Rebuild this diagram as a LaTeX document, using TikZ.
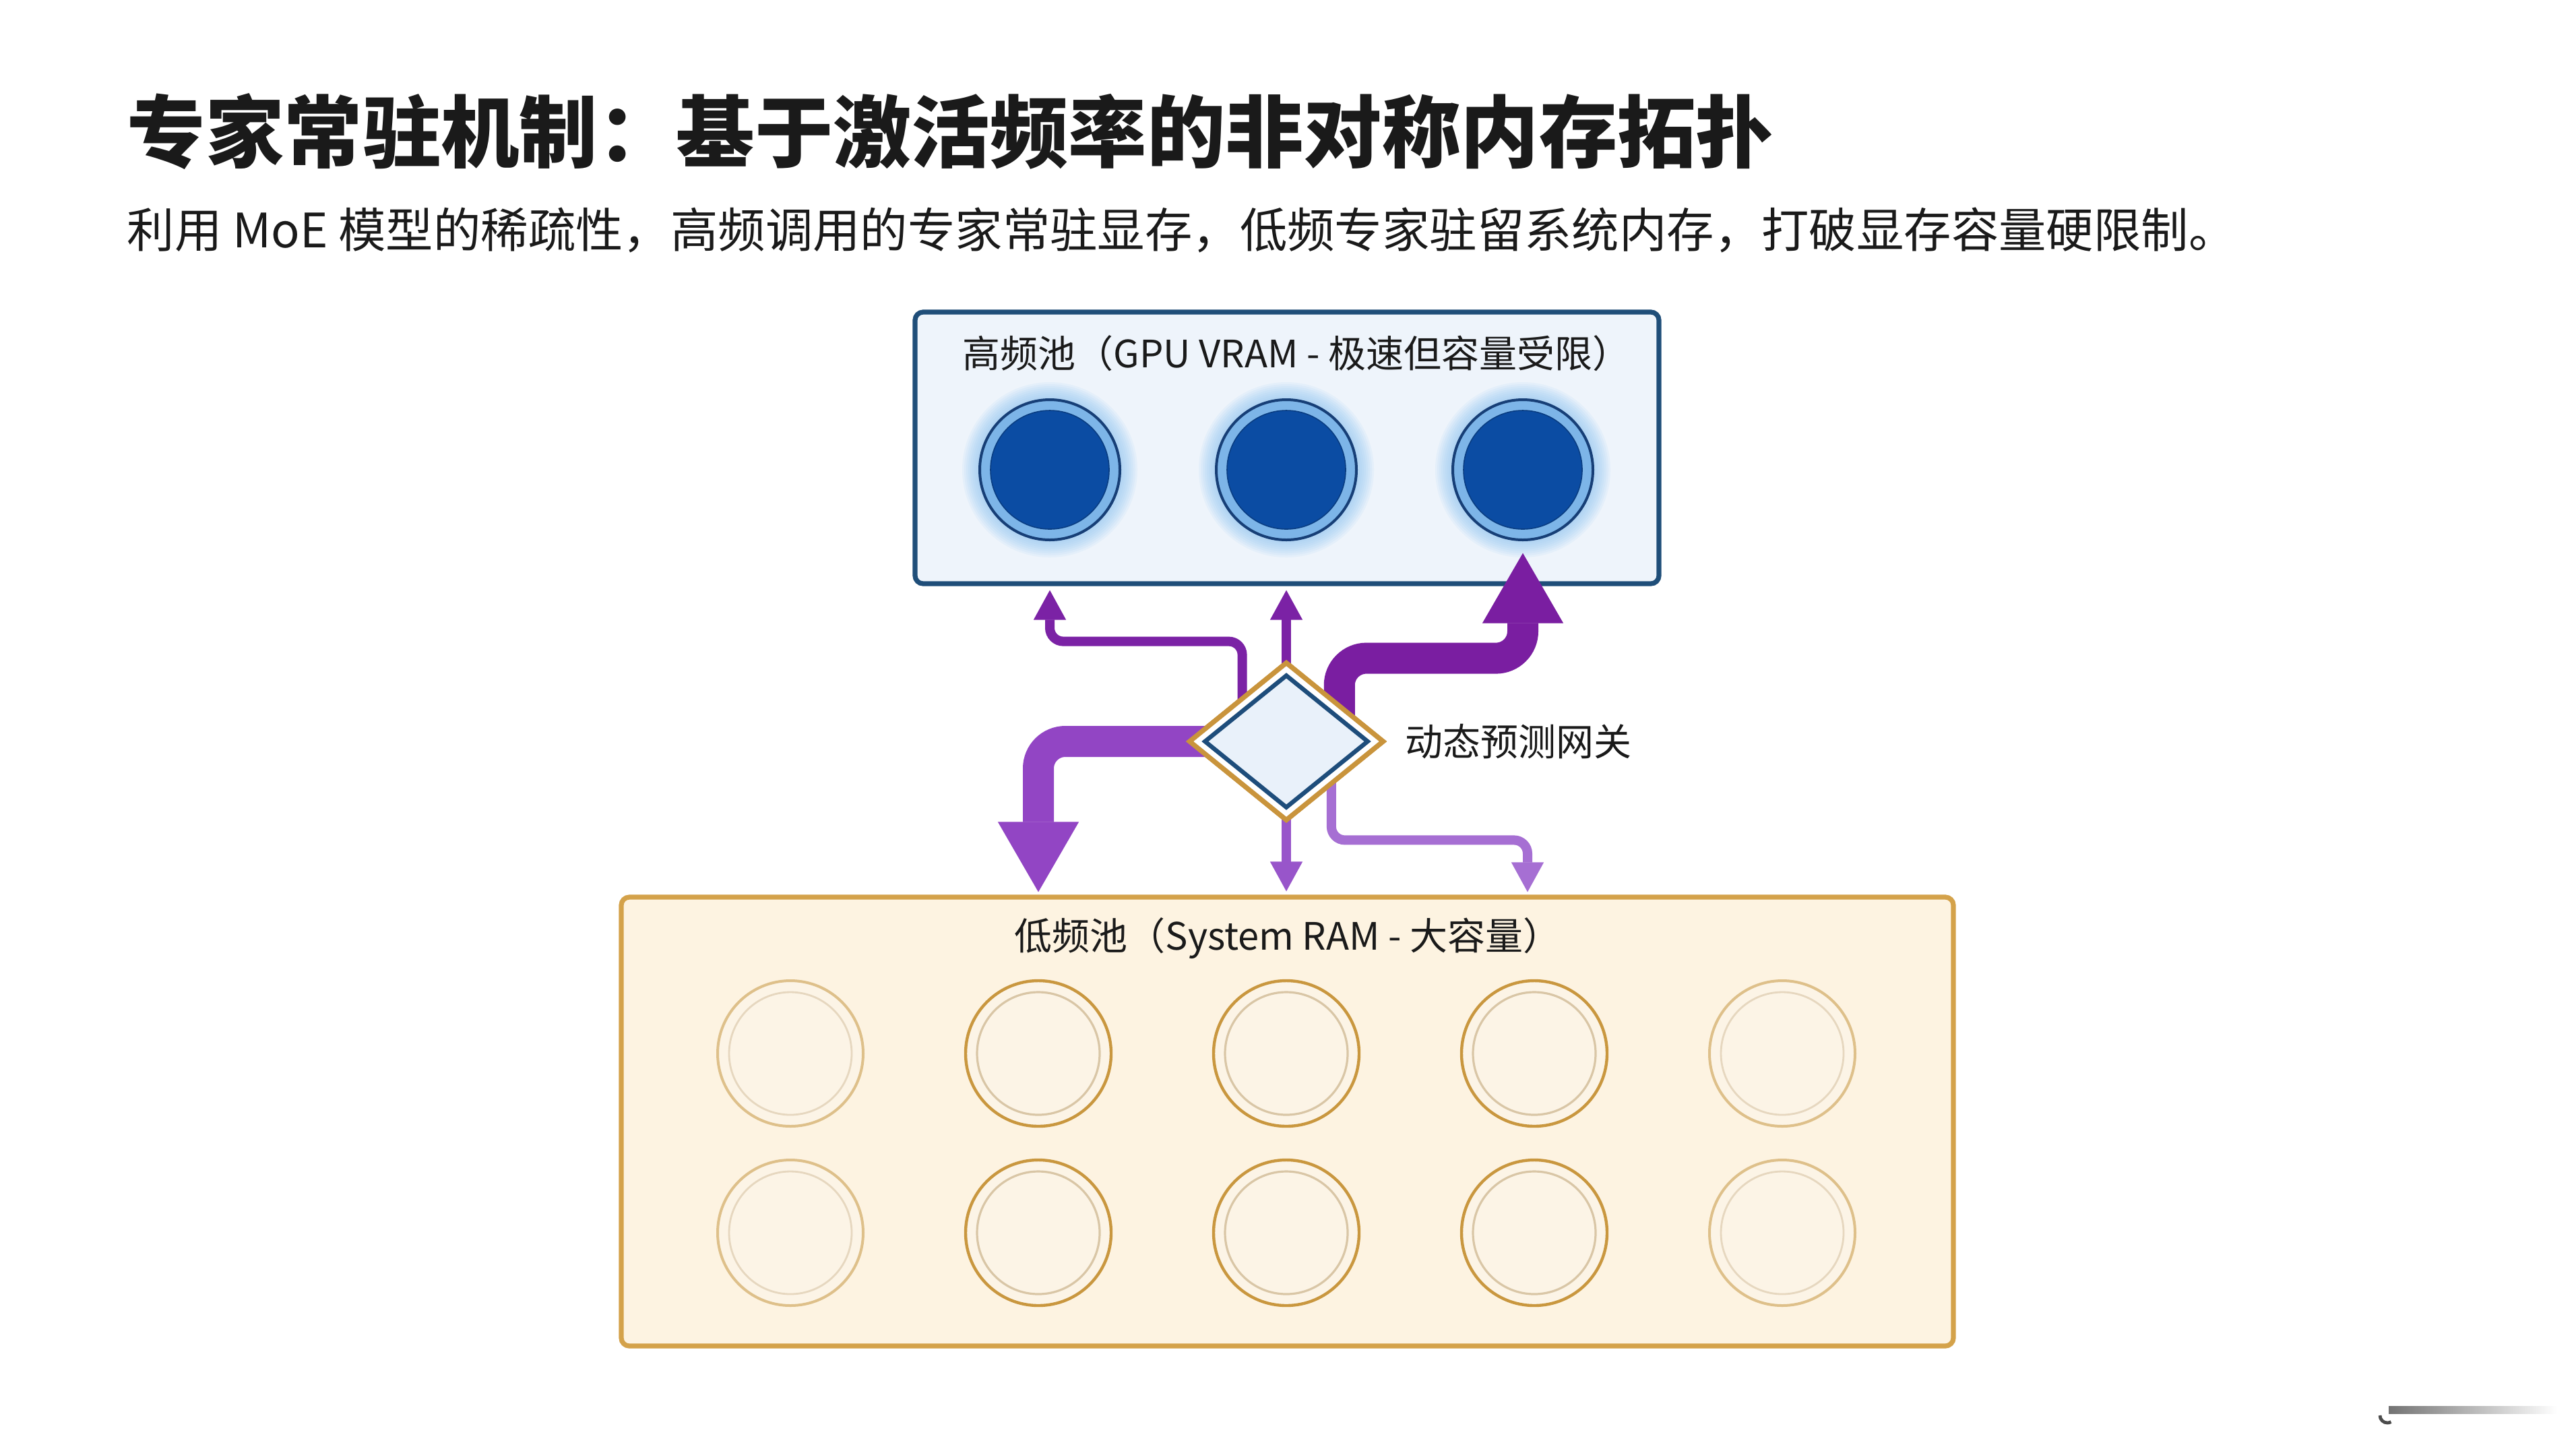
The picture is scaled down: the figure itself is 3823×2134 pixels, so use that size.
\documentclass[tikz,border=0pt]{standalone}
\usepackage{fontspec}
\setmainfont{Noto Sans CJK SC}
\usetikzlibrary{arrows.meta,shapes.geometric,calc}
\definecolor{txt}{HTML}{1A1A1A}
\definecolor{hborder}{HTML}{1F4E79}
\definecolor{hfill}{HTML}{EEF4FB}
\definecolor{lborder}{HTML}{D4A24A}
\definecolor{lfill}{HTML}{FDF3E1}
\definecolor{ringdark}{HTML}{173F77}
\definecolor{ringlight}{HTML}{7DB5E8}
\definecolor{coreblue}{HTML}{0B4CA3}
\definecolor{glowblue}{HTML}{8CC4F2}
\definecolor{lout}{HTML}{C9973F}
\definecolor{lin}{HTML}{D9C6A6}
\definecolor{loutf}{HTML}{DEC08A}
\definecolor{linf}{HTML}{E6D7BF}
\definecolor{lcore}{HTML}{FCF4E6}
\definecolor{gwgold}{HTML}{C9943C}
\definecolor{gwblue}{HTML}{1E4D7B}
\definecolor{gwfill}{HTML}{E9F1FA}
\definecolor{pupdark}{HTML}{7B22A5}
\definecolor{pupthick}{HTML}{7A1EA1}
\definecolor{pdownthick}{HTML}{9245C4}
\definecolor{pdown}{HTML}{9855CA}
\definecolor{pdownlight}{HTML}{A66FD3}
\begin{document}
\begin{tikzpicture}[x=0.25pt,y=-0.25pt,
  boxlabel/.style={inner sep=0pt, font=\fontsize{14}{17}\selectfont, text=txt},
  hboxs/.style={draw=hborder, line width=1.8pt, fill=hfill, rounded corners=3pt, minimum width=276pt, minimum height=100.75pt, inner sep=0pt},
  lboxs/.style={draw=lborder, line width=1.8pt, fill=lfill, rounded corners=3pt, minimum width=494.25pt, minimum height=166.5pt, inner sep=0pt},
  hcirc/.style={circle, minimum size=52pt, inner sep=0pt, fill=ringlight, draw=ringdark, line width=1pt},
  hcore/.style={circle, minimum size=44pt, inner sep=0pt, fill=coreblue, draw=coreblue!80!black, line width=0.4pt},
  loutc/.style={circle, minimum size=54pt, inner sep=0pt, fill=lcore, draw=lout, line width=1.1pt},
  linc/.style={circle, minimum size=45.5pt, inner sep=0pt, draw=lin, line width=0.8pt},
  loutcf/.style={circle, minimum size=54pt, inner sep=0pt, fill=lcore, draw=loutf, line width=1pt},
  lincf/.style={circle, minimum size=45.5pt, inner sep=0pt, draw=linf, line width=0.7pt},
  gwout/.style={diamond, minimum width=72.5pt, minimum height=59pt, inner sep=0pt, draw=gwgold, line width=1.8pt, fill=white},
  gwin/.style={diamond, minimum width=61pt, minimum height=49.5pt, inner sep=0pt, draw=gwblue, line width=1.6pt, fill=gwfill},
  thinar/.style={line width=3.5pt, rounded corners=5pt, -{Triangle[length=11pt,width=12pt,line width=0.3pt]}},
  thickar/.style={line width=11.5pt, rounded corners=10pt, -{Triangle[length=26pt,width=30pt,line width=0.3pt]}}
]
\useasboundingbox (0,0) rectangle (3823,2134);
\fill[white] (0,0) rectangle (3823,2134);

% title and subtitle
\node[anchor=west, inner sep=0pt, text=txt, font=\bfseries\fontsize{29.1}{35}\selectfont] (title) at (188,195) {专家常驻机制：基于激活频率的非对称内存拓扑};
\node[anchor=west, inner sep=0pt, text=txt, font=\fontsize{17.6}{21}\selectfont] (sub) at (188,341) {利用 MoE 模型的稀疏性，高频调用的专家常驻显存，低频专家驻留系统内存，打破显存容量硬限制。};

% high frequency pool
\node[hboxs] (hbox) at (1910,664.5) {};
\node[boxlabel] (hlabel) at (1924,524) {高频池（GPU VRAM - 极速但容量受限）};
\foreach \i/\x in {1/1558,2/1909,3/2260} {
  \foreach \r in {130,127,...,108} {
    \fill[glowblue, opacity=0.1] (\x,697) circle[radius=\r];
  }
  \node[hcirc] (h\i) at (\x,697) {};
  \node[hcore] (hc\i) at (\x,697) {};
}

% low frequency pool
\node[lboxs] (lbox) at (1910.5,1664) {};
\node[boxlabel] (llabel) at (1911,1392) {低频池（System RAM - 大容量）};
\foreach \c/\x in {2/1541,3/1909,4/2277} {
  \foreach \r/\y in {1/1563,2/1829} {
    \node[loutc] (l\r\c) at (\x,\y) {};
    \node[linc] (li\r\c) at (\x,\y) {};
  }
}
\foreach \c/\x in {1/1173,5/2645} {
  \foreach \r/\y in {1/1563,2/1829} {
    \node[loutcf] (l\r\c) at (\x,\y) {};
    \node[lincf] (li\r\c) at (\x,\y) {};
  }
}

% gateway position
\coordinate (gwc) at (1909,1100);
\node[gwout] (gw) at (gwc) {};

% arrow anchors
\coordinate (sA) at ($(gw.west)!0.56!(gw.north)+(0,30)$);
\coordinate (aE) at ($(h1 |- hbox.south)+(0,6)$);
\coordinate (sB) at ($(gw.north)+(0,20)$);
\coordinate (bE) at ($(gw.north |- hbox.south)+(0,6)$);
\coordinate (sC) at ($(gw.north)!0.53!(gw.east)+(0,40)$);
\coordinate (cE) at ($(h3 |- hbox.south)+(0,-49)$);
\coordinate (sD) at ($(gw.west)+(40,0)$);
\coordinate (dE) at ($(l12 |- lbox.north)+(0,-4)$);
\coordinate (sE) at ($(gw.south)+(0,-20)$);
\coordinate (eE) at ($(gw.south |- lbox.north)+(0,-5)$);
\coordinate (sF) at ($(gw.east)!0.55!(gw.south)+(0,-30)$);
\coordinate (fE) at ($(l14 |- lbox.north)+(-10,-4)$);

% arrows
\draw[thinar, pupdark] (sA) |- ($(aE)+(0,76)$) -- (aE);
\draw[thinar, pupdark] (sB) -- (bE);
\draw[thickar, pupthick] (sC) |- ($(cE)+(0,156)$) -- (cE);
\draw[thickar, pdownthick] (sD) -| (dE);
\draw[thinar, pdown] (sE) -- (eE);
\draw[thinar, pdownlight] (sF) |- ($(fE)+(0,-77)$) -- (fE);

% gateway diamond on top
\node[gwout] (gw2) at (gwc) {};
\node[gwin] (gwi) at (gwc) {};
\node[anchor=west, inner sep=0pt, text=txt, font=\fontsize{14}{17}\selectfont] (gwlabel) at (2085,1100) {动态预测网关};

% faint mark bottom right
\shade[left color=black!55, right color=white] (3545,2086) rectangle (3795,2097);
\draw[black!70, line width=1.2pt] (3532,2100) arc[start angle=180, end angle=60, radius=11];
\end{tikzpicture}
\end{document}
